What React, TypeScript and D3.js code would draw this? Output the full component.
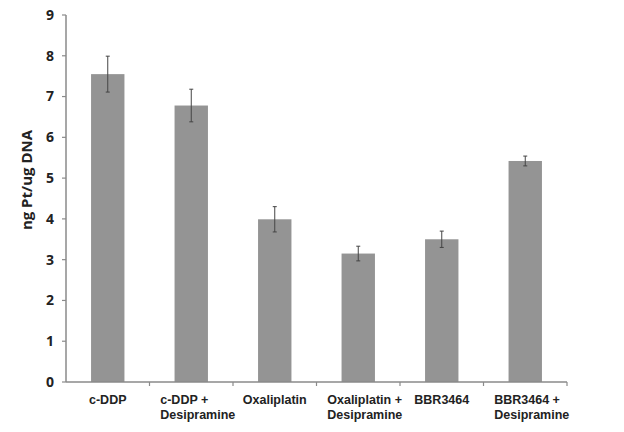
import React from "react";
import * as d3 from "d3";

const categories = [
  ["c-DDP"],
  ["c-DDP +", "Desipramine"],
  ["Oxaliplatin"],
  ["Oxaliplatin +", "Desipramine"],
  ["BBR3464"],
  ["BBR3464 +", "Desipramine"],
];
const values = [7.55, 6.78, 3.99, 3.15, 3.5, 5.42];
const errors = [0.44, 0.4, 0.31, 0.18, 0.2, 0.12];
const yTicks = [0, 1, 2, 3, 4, 5, 6, 7, 8, 9];
const yLabel = "ng Pt/ug DNA";

export default function App() {
  const W = 624, H = 432;
  const x0 = 66, x1 = 567, yTop = 15, yBot = 382;
  const x = d3.scaleBand<number>().domain(d3.range(categories.length)).range([x0, x1]).paddingInner(0).paddingOuter(0);
  const y = d3.scaleLinear().domain([0, 9]).range([yBot, yTop]);
  const bw = x.bandwidth() * 0.4;
  const font = "'Liberation Sans', Arial, sans-serif";
  const font2 = "'Open Sans', 'Liberation Sans', sans-serif";
  const axisColor = "#8a8a8a";
  return (
    <svg width={W} height={H} style={{ position: "absolute", left: 0, top: 0, background: "#fff" }}>
      <rect x={0} y={0} width={W} height={H} fill="#fff" />
      {values.map((v, i) => {
        const cx = (x(i) as number) + x.bandwidth() / 2;
        return (
          <g key={i}>
            <rect x={cx - bw / 2} y={y(v)} width={bw} height={yBot - y(v)} fill="#949494" />
            <line x1={cx} x2={cx} y1={y(v + errors[i])} y2={y(v - errors[i])} stroke="#444" strokeWidth={1} />
            <line x1={cx - 2} x2={cx + 2} y1={y(v + errors[i])} y2={y(v + errors[i])} stroke="#444" strokeWidth={1} />
            <line x1={cx - 2} x2={cx + 2} y1={y(v - errors[i])} y2={y(v - errors[i])} stroke="#444" strokeWidth={1} />
          </g>
        );
      })}
      <line x1={x0} x2={x0} y1={yTop} y2={yBot} stroke={axisColor} strokeWidth={1.5} />
      <line x1={x0} x2={x1} y1={yBot} y2={yBot} stroke={axisColor} strokeWidth={1.5} />
      {yTicks.map((t) => (
        <g key={t}>
          <line x1={x0 - 4} x2={x0} y1={y(t)} y2={y(t)} stroke={axisColor} strokeWidth={1.2} />
          <text x={54} y={y(t)} dy="0.35em" textAnchor="end" fontFamily={font2} fontWeight="bold" fontSize={14} fill="#222">{t}</text>
        </g>
      ))}
      {categories.map((_, i) => (
        <line key={i} x1={(x(i) as number) + x.bandwidth()} x2={(x(i) as number) + x.bandwidth()} y1={yBot} y2={yBot + 4} stroke={axisColor} strokeWidth={1.2} />
      ))}
      {categories.map((lines, i) => {
        const cx = (x(i) as number) + x.bandwidth() / 2;
        if (lines.length === 1) {
          return (
            <text key={i} x={cx} y={404} textAnchor="middle" fontFamily={font} fontWeight="bold" fontSize={12.5} fill="#222">{lines[0]}</text>
          );
        }
        return (
          <text key={i} x={cx - 31} y={404} textAnchor="start" fontFamily={font} fontWeight="bold" fontSize={12.5} fill="#222">
            {lines.map((l, j) => (
              <tspan key={j} x={cx - 31} dy={j === 0 ? 0 : 15}>{l}</tspan>
            ))}
          </text>
        );
      })}
      <text transform={`translate(32,180) rotate(-90)`} textAnchor="middle" fontFamily={font2} fontWeight="bold" fontSize={15} fill="#222">{yLabel}</text>
    </svg>
  );
}
